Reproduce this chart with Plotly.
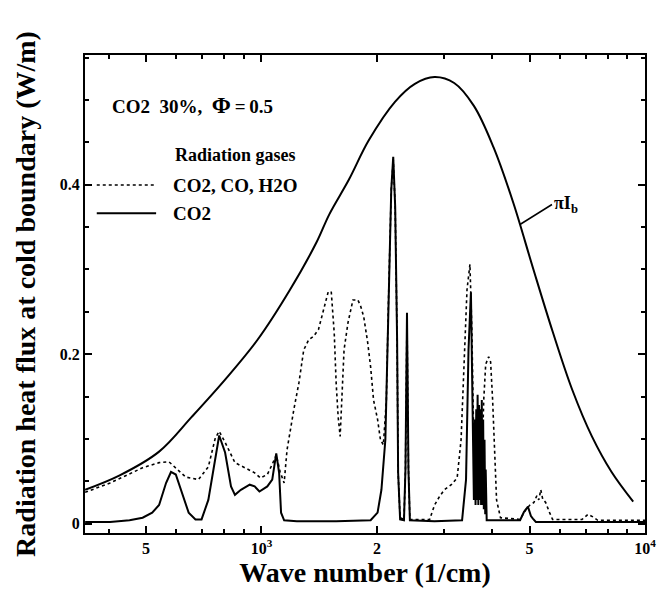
import plotly.graph_objects as go

# ---- Data ----
planck_wn = [347, 427, 541, 658, 804, 977, 1187, 1392, 1503, 1691, 1903, 2232, 2512,
             2827, 3181, 3580, 4029, 4533, 5102, 5741, 6461, 7271, 8182, 9316]
planck_flux = [0.040, 0.057, 0.085, 0.126, 0.170, 0.217, 0.276, 0.332, 0.365, 0.406,
               0.452, 0.498, 0.519, 0.527, 0.520, 0.493, 0.444, 0.379, 0.302, 0.227,
               0.158, 0.103, 0.061, 0.026]

co2_wn = [347, 403, 453, 490, 519, 541, 564, 581, 598, 620, 646, 673, 698, 727, 758,
          776, 804, 833, 853, 884, 932, 960, 988, 1036, 1067, 1093, 1112, 1125, 1146,
          1237, 1566, 1926, 2008, 2055, 2104, 2142, 2180, 2206, 2232, 2258, 2272, 2299,
          2353, 2374, 2396, 2417, 2438, 2827, 3335, 3415, 3466, 3517, 3548, 3580,
          3601, 3616, 3631, 3646, 3661, 3677, 3692, 3707, 3723, 3738, 3754, 3769,
          3785, 3800, 3816, 3832, 3843, 3866, 4724, 4837, 4953, 5042, 5102, 5193, 10000]
co2_flux = [0.002, 0.002, 0.004, 0.007, 0.013, 0.022, 0.048, 0.061, 0.058, 0.037, 0.013,
            0.005, 0.005, 0.028, 0.079, 0.104, 0.084, 0.044, 0.034, 0.040, 0.046, 0.044,
            0.038, 0.044, 0.052, 0.083, 0.060, 0.013, 0.004, 0.003, 0.003, 0.004, 0.013,
            0.040, 0.099, 0.256, 0.394, 0.433, 0.374, 0.217, 0.060, 0.005, 0.004, 0.064,
            0.249, 0.064, 0.004, 0.003, 0.004, 0.052, 0.205, 0.273, 0.170, 0.028,
            0.123, 0.022, 0.135, 0.028, 0.152, 0.022, 0.140, 0.028, 0.135, 0.022, 0.146,
            0.022, 0.123, 0.017, 0.099, 0.011, 0.064, 0.004, 0.004, 0.014, 0.020, 0.009,
            0.006, 0.002, 0.002]

mix_wn = [347, 403, 490, 541, 574, 598, 635, 685, 727, 758, 776, 804, 853, 905, 960,
          994, 1036, 1067, 1093, 1119, 1146, 1166, 1187, 1215, 1252, 1289, 1328, 1367,
          1408, 1450, 1494, 1521, 1548, 1566, 1585, 1604, 1623, 1642, 1681, 1732, 1784,
          1816, 1848, 1892, 1926, 1960, 2008, 2043, 2079, 2117, 2142, 2180, 2206, 2232,
          2258, 2272, 2299, 2353, 2374, 2396, 2417, 2438, 2745, 2827, 2912, 2999, 3126,
          3238, 3315, 3375, 3435, 3496, 3537, 3580, 3622, 3688, 3754, 3798, 3843, 3912,
          3958, 4006, 4054, 4102, 4200, 4724, 4894, 5012, 5132, 5223, 5286, 5349, 5412,
          5508, 5640, 5741, 6852, 7100, 7313, 7532, 10000]
mix_flux = [0.037, 0.048, 0.066, 0.072, 0.073, 0.066, 0.055, 0.052, 0.067, 0.101, 0.109,
            0.096, 0.072, 0.066, 0.060, 0.054, 0.058, 0.070, 0.081, 0.061, 0.048, 0.087,
            0.109, 0.135, 0.166, 0.205, 0.217, 0.221, 0.229, 0.253, 0.274, 0.273, 0.225,
            0.166, 0.126, 0.103, 0.146, 0.205, 0.237, 0.264, 0.264, 0.256, 0.244, 0.214,
            0.185, 0.146, 0.123, 0.099, 0.093, 0.146, 0.256, 0.394, 0.430, 0.374, 0.217,
            0.060, 0.007, 0.005, 0.064, 0.247, 0.064, 0.005, 0.005, 0.022, 0.032, 0.040,
            0.046, 0.054, 0.099, 0.194, 0.276, 0.306, 0.229, 0.087, 0.034, 0.040, 0.064,
            0.146, 0.188, 0.197, 0.191, 0.146, 0.076, 0.028, 0.007, 0.005, 0.017, 0.022,
            0.025, 0.033, 0.028, 0.040, 0.029, 0.025, 0.013, 0.005, 0.005, 0.011, 0.008,
            0.004, 0.004]

x_major = [500, 1000, 2000, 5000, 10000]
x_major_text = ["5", "10<sup>3</sup>", "2", "5", "10<sup>4</sup>"]
x_minor = [400, 600, 700, 800, 900, 3000, 4000, 6000, 7000, 8000, 9000]
y_major = [0, 0.2, 0.4]
y_major_text = ["0", "0.2", "0.4"]
y_minor = [0.05, 0.1, 0.15, 0.25, 0.3, 0.35, 0.45, 0.5, 0.55]

legend_names = ["CO2, CO, H2O", "CO2"]
legend_dash = ["dot", "solid"]

FONT = "Liberation Serif"

fig = go.Figure()
fig.add_trace(go.Scatter(x=planck_wn, y=planck_flux, mode="lines", name="πIb",
                         line=dict(color="black", width=2, shape="spline"),
                         showlegend=False))
fig.add_trace(go.Scatter(x=mix_wn, y=mix_flux, mode="lines", name=legend_names[0],
                         line=dict(color="black", width=1.6, dash=legend_dash[0]),
                         showlegend=False))
fig.add_trace(go.Scatter(x=co2_wn, y=co2_flux, mode="lines", name=legend_names[1],
                         line=dict(color="black", width=2, dash=legend_dash[1]),
                         showlegend=False))

fig.update_layout(
    width=660, height=587,
    margin=dict(l=77, r=14, t=47, b=62),
    paper_bgcolor="white", plot_bgcolor="white",
    font=dict(family=FONT, color="black", size=16, weight="bold"),
    showlegend=False,
    xaxis=dict(type="log", range=[2.54, 4.0], showgrid=False, zeroline=False,
               showline=True, linewidth=2, linecolor="black", mirror="ticks",
               ticks="inside", ticklen=7, tickwidth=1.5, tickcolor="black",
               tickvals=x_major, ticktext=x_major_text,
               tickfont=dict(size=16, family=FONT, weight="bold"),
               minor=dict(tickvals=x_minor, ticks="inside", ticklen=4,
                          tickcolor="black", tickwidth=1.5),
               title=dict(text="Wave number (1/cm)",
                          font=dict(size=28, family=FONT, weight="bold"),
                          standoff=2)),
    yaxis=dict(range=[-0.011, 0.553], showgrid=False, zeroline=False,
               showline=True, linewidth=2, linecolor="black", mirror="ticks",
               ticks="inside", ticklen=7, tickwidth=1.5, tickcolor="black",
               tickvals=y_major, ticktext=y_major_text,
               tickfont=dict(size=16, family=FONT, weight="bold"),
               minor=dict(tickvals=y_minor, ticks="inside", ticklen=4,
                          tickcolor="black", tickwidth=1.5),
               title=dict(text="Radiation heat flux at cold boundary (W/m)",
                          font=dict(size=28, family=FONT, weight="bold"),
                          standoff=16)),
)

# legend keys (drawn as paper-space sample lines with labels)
key_y = [0.728, 0.669]
for name, dash, ky, w in zip(legend_names, legend_dash, key_y, [1.6, 2]):
    fig.add_shape(type="line", xref="paper", yref="paper", x0=0.021, x1=0.127,
                  y0=ky, y1=ky, line=dict(color="black", width=w, dash=dash))
    fig.add_annotation(xref="paper", yref="paper", x=0.153, y=ky, xanchor="left",
                       yanchor="middle", showarrow=False, text=name,
                       font=dict(size=19, family=FONT, weight="bold"))

fig.add_annotation(xref="paper", yref="paper", x=0.044, y=0.895,
                   xanchor="left", yanchor="middle", showarrow=False,
                   text="CO2\u00a0\u00a030%,\u00a0\u00a0<span style='font-size:23px'>Φ</span>\u2009=\u20090.5",
                   font=dict(size=19, family=FONT, weight="bold"))
fig.add_annotation(xref="paper", yref="paper", x=0.158, y=0.791,
                   xanchor="left", yanchor="middle", showarrow=False,
                   text="Radiation gases",
                   font=dict(size=18, family=FONT, weight="bold"))
fig.add_annotation(x=3.674, y=0.353, xref="x", yref="y",
                   text="πI<sub>b</sub>", showarrow=True, arrowhead=0,
                   arrowwidth=1.5, arrowcolor="black", ax=32, ay=-20,
                   xanchor="left", font=dict(size=18, family=FONT, weight="bold"))

fig.write_html("out.html")
